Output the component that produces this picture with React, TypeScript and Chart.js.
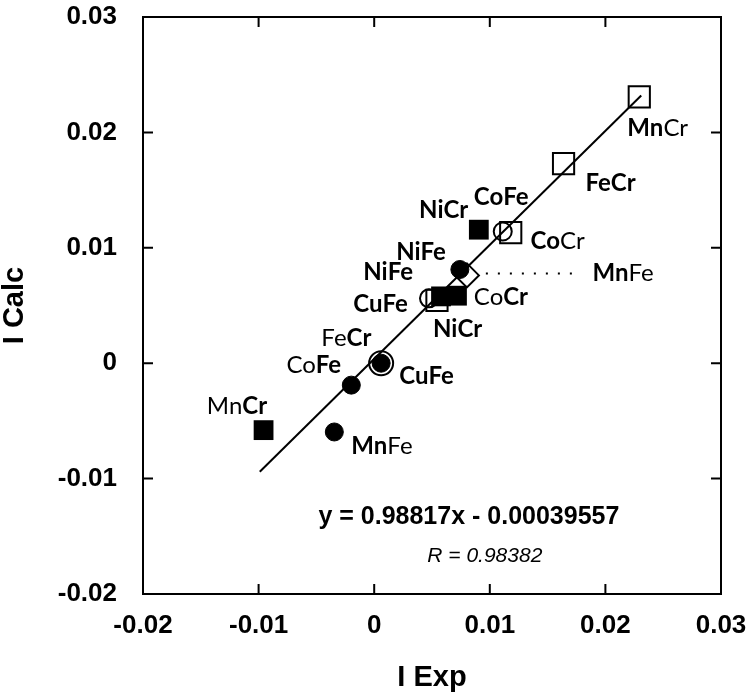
import React, { useEffect, useRef } from "react";
import { Chart, registerables } from "chart.js";

Chart.register(...registerables);

// ---- axes ----
const xTickValues = [-0.02, -0.01, 0, 0.01, 0.02, 0.03];
const xTickLabels = ["-0.02", "-0.01", "0", "0.01", "0.02", "0.03"];
const yTickValues = [-0.02, -0.01, 0, 0.01, 0.02, 0.03];
const yTickLabels = ["-0.02", "-0.01", "0", "0.01", "0.02", "0.03"];
const xTitle = "I Exp";
const yTitle = "I Calc";

// ---- series (I Exp, I Calc) ----
const filledSquares = [
  { x: -0.00957, y: -0.0058 }, // MnCr
  { x: 0.00905, y: 0.01157 }, // NiCr
  { x: 0.00578, y: 0.00579 }, // NiCr
  { x: 0.00716, y: 0.00585 }, // CoCr
];
const filledCircles = [
  { x: -0.00345, y: -0.00596 }, // MnFe
  { x: -0.00198, y: -0.0019 }, // CoFe
  { x: 0.0006, y: 0.0 }, // CuFe
  { x: 0.00741, y: 0.00812 }, // NiFe
];
const openSquares = [
  { x: 0.02293, y: 0.02308 }, // MnCr
  { x: 0.01638, y: 0.01729 }, // FeCr
  { x: 0.01181, y: 0.01132 }, // CoCr
  { x: 0.00543, y: 0.00545 }, // NiCr
];
const openCircles = [
  { x: 0.01112, y: 0.01141 }, // CoFe
  { x: 0.00474, y: 0.00562 }, // CuFe
  { x: 0.0006, y: 0.0 }, // CuFe / FeCr
];
const openDiamonds = [
  { x: 0.00802, y: 0.00761 }, // MnFe
];
const fitLine = [
  { x: -0.0099, y: -0.0094 },
  { x: 0.0231, y: 0.0232 },
];
const leaderLine = [
  { x: 0.00966, y: 0.00778 },
  { x: 0.01784, y: 0.00778 },
];

// ---- point labels: parts [text, bold], anchor in data units ----
type Part = [string, boolean];
const labelParts: Part[][] = [
  [["Mn", true], ["Cr", false]],
  [["Fe", true], ["Cr", true]],
  [["Co", true], ["Fe", true]],
  [["Ni", true], ["Cr", true]],
  [["Co", true], ["Cr", false]],
  [["Ni", true], ["Fe", true]],
  [["Ni", true], ["Fe", true]],
  [["Mn", true], ["Fe", false]],
  [["Co", false], ["Cr", true]],
  [["Cu", true], ["Fe", true]],
  [["Ni", true], ["Cr", true]],
  [["Fe", false], ["Cr", true]],
  [["Co", false], ["Fe", true]],
  [["Cu", true], ["Fe", true]],
  [["Mn", false], ["Cr", true]],
  [["Mn", true], ["Fe", false]],
];
const labelX = [
  0.0219, 0.01828, 0.00862, 0.00388, 0.01353, 0.0019, -0.00095, 0.01888,
  0.00862, -0.00181, 0.00509, -0.00457, -0.00759, 0.00216, -0.01448, -0.00198,
];
const labelY = [
  0.0204, 0.01556, 0.01435, 0.01322, 0.01054, 0.0096, 0.00787, 0.00778,
  0.0057, 0.0051, 0.00294, 0.00216, -0.00017, -0.00112, -0.00372, -0.00717,
];

const equationText = "y = 0.98817x - 0.00039557";
const equationAt = { x: 0.00819, y: -0.01331 };
const rText = "R = 0.98382";
const rAt = { x: 0.00957, y: -0.01668 };

const SANS = '"Liberation Sans", Arial, sans-serif';
const LABEL_FONT = 'Lato, "Noto Sans", sans-serif';

const framePlugin = {
  id: "frameAndLabels",
  afterDatasetsDraw(chart: any) {
    const { ctx, chartArea: a, scales } = chart;
    const xs = scales.x;
    const ys = scales.y;
    ctx.save();
    ctx.strokeStyle = "#000";
    ctx.lineWidth = 2;
    ctx.strokeRect(a.left, a.top, a.right - a.left, a.bottom - a.top);
    const tl = 10;
    ctx.beginPath();
    xTickValues.forEach((v) => {
      const px = xs.getPixelForValue(v);
      ctx.moveTo(px, a.bottom);
      ctx.lineTo(px, a.bottom - tl);
      ctx.moveTo(px, a.top);
      ctx.lineTo(px, a.top + tl);
    });
    yTickValues.forEach((v) => {
      const py = ys.getPixelForValue(v);
      ctx.moveTo(a.left, py);
      ctx.lineTo(a.left + tl, py);
      ctx.moveTo(a.right, py);
      ctx.lineTo(a.right - tl, py);
    });
    ctx.stroke();

    ctx.fillStyle = "#000";
    ctx.textBaseline = "middle";
    ctx.textAlign = "left";
    labelParts.forEach((parts, i) => {
      let px = xs.getPixelForValue(labelX[i]);
      const py = ys.getPixelForValue(labelY[i]);
      parts.forEach(([t, b]) => {
        ctx.font = `${b ? "bold" : "normal"} 24px ${LABEL_FONT}`;
        ctx.fillText(t, px, py);
        px += ctx.measureText(t).width;
      });
    });

    ctx.textAlign = "center";
    ctx.font = `bold 25px ${SANS}`;
    ctx.fillText(equationText, xs.getPixelForValue(equationAt.x), ys.getPixelForValue(equationAt.y));
    ctx.font = `italic 21px ${SANS}`;
    ctx.fillText(rText, xs.getPixelForValue(rAt.x), ys.getPixelForValue(rAt.y));
    ctx.restore();
  },
};

export default function App() {
  const ref = useRef<HTMLCanvasElement | null>(null);
  useEffect(() => {
    if (!ref.current) return;
    const tickFont = { family: SANS, size: 26, weight: "bold" as const };
    const titleFont = { family: SANS, size: 29, weight: "bold" as const, lineHeight: 1.0 };
    const chart = new Chart(ref.current, {
      type: "scatter",
      data: {
        datasets: [
          {
            label: "filledSquares",
            data: filledSquares,
            pointStyle: "rect",
            pointRadius: 14,
            backgroundColor: "#000",
            borderColor: "#000",
            borderWidth: 0,
          },
          {
            label: "filledCircles",
            data: filledCircles,
            pointStyle: "circle",
            pointRadius: 9,
            backgroundColor: "#000",
            borderColor: "#000",
            borderWidth: 1,
          },
          {
            label: "fit",
            type: "line",
            data: fitLine,
            borderColor: "#000",
            borderWidth: 2,
            pointRadius: 0,
            showLine: true,
            fill: false,
          },
          {
            label: "leader",
            type: "line",
            data: leaderLine,
            borderColor: "#000",
            borderWidth: 2,
            borderDash: [2, 10],
            pointRadius: 0,
            showLine: true,
            fill: false,
          },
          {
            label: "openSquares",
            data: openSquares,
            pointStyle: "rect",
            pointRadius: 15,
            backgroundColor: "rgba(0,0,0,0)",
            borderColor: "#000",
            borderWidth: 2,
          },
          {
            label: "openCircles",
            data: openCircles,
            pointStyle: "circle",
            pointRadius: (c: any) => (c.dataIndex === 2 ? 12 : 9),
            backgroundColor: "rgba(0,0,0,0)",
            borderColor: "#000",
            borderWidth: 2,
          },
          {
            label: "openDiamonds",
            data: openDiamonds,
            pointStyle: "rectRot",
            pointRadius: 12,
            backgroundColor: "rgba(0,0,0,0)",
            borderColor: "#000",
            borderWidth: 2,
          },
        ],
      },
      options: {
        animation: false,
        responsive: false,
        events: [],
        layout: { padding: { left: 0, right: 29, top: 15, bottom: 0 } },
        plugins: { legend: { display: false }, tooltip: { enabled: false } },
        scales: {
          x: {
            type: "linear",
            position: "bottom",
            min: -0.02,
            max: 0.03,
            grid: { display: false, drawTicks: false },
            border: { display: false },
            ticks: {
              color: "#000",
              font: tickFont,
              padding: 16,
              maxRotation: 0,
              autoSkip: false,
              callback: (v: any) => {
                const i = xTickValues.findIndex((t) => Math.abs(t - v) < 1e-9);
                return i >= 0 ? xTickLabels[i] : "";
              },
            },
            title: { display: true, text: xTitle, color: "#000", font: titleFont, padding: { top: 0, bottom: 6 } },
            afterBuildTicks: (s: any) => {
              s.ticks = xTickValues.map((v) => ({ value: v }));
            },
            afterFit: (s: any) => {
              s.height = 104;
              s.paddingLeft = 0;
              s.paddingRight = 0;
            },
          },
          y: {
            type: "linear",
            position: "left",
            min: -0.02,
            max: 0.03,
            grid: { display: false, drawTicks: false },
            border: { display: false },
            ticks: {
              color: "#000",
              font: tickFont,
              padding: 26,
              autoSkip: false,
              callback: (v: any) => {
                const i = yTickValues.findIndex((t) => Math.abs(t - v) < 1e-9);
                return i >= 0 ? yTickLabels[i] : "";
              },
            },
            title: { display: true, text: yTitle, color: "#000", font: titleFont, padding: { top: 0, bottom: 0 } },
            afterBuildTicks: (s: any) => {
              s.ticks = yTickValues.map((v) => ({ value: v }));
            },
            afterFit: (s: any) => {
              s.width = 143;
              s.paddingTop = 0;
              s.paddingBottom = 0;
            },
          },
        },
      },
      plugins: [framePlugin],
    });
    return () => chart.destroy();
  }, []);
  return (
    <div style={{ position: "absolute", left: 0, top: 0, width: 750, height: 698, background: "#fff" }}>
      <canvas ref={ref} width={750} height={698} style={{ display: "block" }} />
    </div>
  );
}
